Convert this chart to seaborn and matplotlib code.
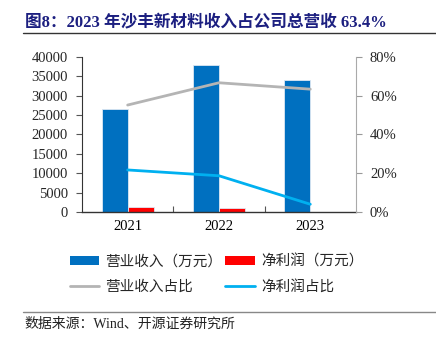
import matplotlib
matplotlib.use("Agg")
import matplotlib.pyplot as plt
import seaborn as sns
import pandas as pd
import numpy as np
from matplotlib.patches import Patch
from matplotlib.lines import Line2D
from matplotlib.ticker import FuncFormatter

years = ["2021", "2022", "2023"]
revenue = [26500, 38000, 34000]
net_profit = [1350, 1100, np.nan]
revenue_share = [0.552, 0.667, 0.634]
profit_share = [0.217, 0.187, 0.04]

series_names = ["营业收入（万元）", "净利润（万元）"]
line_names = ["营业收入占比", "净利润占比"]
source_text = "数据来源：Wind、开源证券研究所"
title_text = "图8：2023 年沙丰新材料收入占公司总营收 63.4%"

sns.set_theme(style="white")
CJK = ["Noto Sans CJK SC", "DejaVu Sans"]
SERIF = ["Liberation Serif", "Noto Sans CJK SC"]
plt.rcParams["font.family"] = SERIF

fig = plt.figure(figsize=(4.36, 3.45), dpi=100)
ax = fig.add_axes([0.188, 0.3855, 0.6285, 0.4493])

df = pd.DataFrame({
    "year": years * 2,
    "value": revenue + net_profit,
    "series": [series_names[0]] * 3 + [series_names[1]] * 3,
})
sns.barplot(data=df, x="year", y="value", hue="series", ax=ax,
            palette=["#0070C0", "#FF0000"], width=0.57, gap=0, saturation=1,
            edgecolor="#DDE8F3", linewidth=0.6, legend=False)
ax.set_xlim(-0.5, 2.5)
ax.set_ylim(0, 40000)
ax.set_yticks(range(0, 40001, 5000))
ax.set_xlabel("")
ax.set_ylabel("")
ax.set_xticks([0, 1, 2])
ax.set_xticklabels(years)
ax.tick_params(axis="x", length=0, labelsize=10.5, pad=6, colors="black")
ax.tick_params(axis="y", left=True, length=4, width=0.8, color="#555555", labelsize=10.5, pad=6)
for lab in ax.get_xticklabels() + ax.get_yticklabels():
    lab.set_fontfamily(SERIF)
ax.set_xticks([0.5, 1.5], minor=True)
ax.tick_params(axis="x", which="minor", bottom=True, direction="in", length=4, width=0.8, color="#555555")
for s in ["top", "right"]:
    ax.spines[s].set_visible(False)
ax.spines["left"].set_color("#333333")
ax.spines["left"].set_linewidth(0.8)
ax.spines["bottom"].set_color("#333333")
ax.spines["bottom"].set_linewidth(1.0)

ax2 = ax.twinx()
ldf = pd.DataFrame({"year": years, "rs": revenue_share, "ps": profit_share})
sns.lineplot(data=ldf, x="year", y="rs", ax=ax2, color="#B4B4B4", linewidth=2.0, sort=False)
sns.lineplot(data=ldf, x="year", y="ps", ax=ax2, color="#00B0F0", linewidth=2.0, sort=False)
ax2.set_xlim(-0.5, 2.5)
ax2.set_ylim(0, 0.8)
ax2.set_yticks([0, 0.2, 0.4, 0.6, 0.8])
ax2.yaxis.set_major_formatter(FuncFormatter(lambda v, p: f"{v*100:.0f}%"))
ax2.set_ylabel("")
ax2.set_xlabel("")
ax2.tick_params(axis="y", right=True, length=4, width=0.8, color="#999999", labelsize=10.5, pad=6)
for lab in ax2.get_yticklabels():
    lab.set_fontfamily(SERIF)
for s in ["top", "left", "bottom"]:
    ax2.spines[s].set_visible(False)
ax2.spines["right"].set_color("#AAAAAA")
ax2.spines["right"].set_linewidth(0.8)

# Title
fig.text(0.057, 0.935, title_text, fontsize=12, fontweight="bold", color="#1C1F80",
         family=["Liberation Serif", "Noto Sans CJK SC"], va="center", ha="left")
fig.add_artist(Line2D([0.053, 1.0], [0.903, 0.903], color="#333333", linewidth=1.0))

# Legend (row-wise order)
handles = [Patch(facecolor="#0070C0", edgecolor="none"),
           Line2D([], [], color="#B4B4B4", linewidth=2.0),
           Patch(facecolor="#FF0000", edgecolor="none"),
           Line2D([], [], color="#00B0F0", linewidth=2.0)]
labels = [series_names[0], line_names[0], series_names[1], line_names[1]]
leg = fig.legend(handles, labels, loc="center", bbox_to_anchor=(0.497, 0.205), ncol=2,
                 frameon=False, prop={"family": CJK, "size": 10.5},
                 handlelength=2.0, handleheight=0.6, columnspacing=0.2, handletextpad=0.45,
                 labelspacing=0.8)

fig.add_artist(Line2D([0.053, 1.0], [0.096, 0.096], color="#888888", linewidth=1.0))
fig.text(0.057, 0.06, source_text, fontsize=10, family=["Liberation Serif", "Noto Sans CJK SC"],
         va="center", ha="left", color="#222222")

fig.savefig("out.png", dpi=100)
